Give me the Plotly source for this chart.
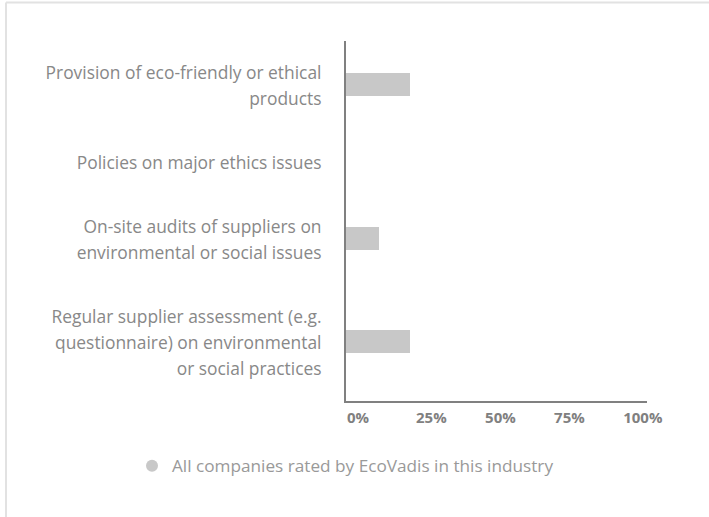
import plotly.graph_objects as go

# ---- data ----
CATEGORIES = [
    ["Provision of eco-friendly or ethical", "products"],
    ["Policies on major ethics issues"],
    ["On-site audits of suppliers on", "environmental or social issues"],
    ["Regular supplier assessment (e.g.", "questionnaire) on environmental", "or social practices"],
]
VALUES = [23, 0, 12, 23]
SERIES_NAME = "All companies rated by EcoVadis in this industry"
X_TICKS = [0, 25, 50, 75, 100]
X_TICK_LABELS = ["0%", "25%", "50%", "75%", "100%"]

# ---- style / layout constants ----
W, H = 709, 517
ML, MR, MT, MB = 346, 62, 41, 116
X_RANGE = [0, 109]   # axis line runs a little past 100%
LINE_H = 26      # px between label lines
PAD = 38         # extra band height per category
BAR_W = 23
BAR_COLOR = "#c8c8c8"
AXIS_COLOR = "#808080"
FONT = "Open Sans"

# category band layout derived from label line counts (y axis in pixel-like units)
bands = [PAD + LINE_H * len(c) for c in CATEGORIES]
total = sum(bands)
centers = []
acc = 0
for b in bands:
    centers.append(acc + b / 2)
    acc += b

tickvals, ticktext = [], []
for c, lines in zip(centers, CATEGORIES):
    n = len(lines)
    for j, ln in enumerate(lines):
        tickvals.append(c + (j - (n - 1) / 2) * LINE_H)
        ticktext.append(ln)

fig = go.Figure()
fig.add_trace(go.Bar(
    x=VALUES, y=centers, orientation="h", width=BAR_W, offset=-BAR_W / 2 - 2,
    marker=dict(color=BAR_COLOR, line=dict(width=0)),
    showlegend=False, hoverinfo="skip",
))
# legend entry with a circle symbol
fig.add_trace(go.Scatter(
    x=[None], y=[None], mode="markers", name=SERIES_NAME,
    marker=dict(symbol="circle", size=12, color=BAR_COLOR),
    hoverinfo="skip",
))

plot_w = W - ML - MR
plot_h = H - MT - MB

fig.update_layout(
    width=W, height=H,
    margin=dict(l=ML, r=MR, t=MT, b=MB, pad=0),
    paper_bgcolor="white", plot_bgcolor="white",
    font=dict(family=FONT, size=17, color="#888888"),
    bargap=0,
    xaxis=dict(
        range=X_RANGE, showgrid=False, zeroline=False,
        showline=True, linecolor=AXIS_COLOR, linewidth=2,
        tickvals=X_TICKS, ticktext=X_TICK_LABELS, ticks="",
        ticklabelposition="outside right",
        tickfont=dict(family=FONT, size=15, color=AXIS_COLOR, weight="bold"),
        ticklabelstandoff=2,
    ),
    yaxis=dict(
        range=[total, 0], showgrid=False, zeroline=False,
        showline=True, linecolor=AXIS_COLOR, linewidth=2,
        tickvals=tickvals, ticktext=ticktext, ticks="",
        tickfont=dict(family=FONT, size=17.4, color="#888888"),
        ticklabelstandoff=19,
    ),
    legend=dict(
        orientation="h", x=(132 - ML) / plot_w, xanchor="left",
        y=-(466 - (H - MB)) / plot_h, yanchor="middle",
        font=dict(family=FONT, size=17.2, color="#999999"),
        bgcolor="rgba(0,0,0,0)",
    ),
)

# container border (top and left edges visible)
bx = (6 - ML) / plot_w
by = ((H - MB) - 2.5) / plot_h
fig.add_shape(type="line", xref="paper", yref="paper",
              x0=bx, x1=(W + 5 - ML) / plot_w, y0=by, y1=by,
              line=dict(color="#e2e2e2", width=2))
fig.add_shape(type="line", xref="paper", yref="paper",
              x0=bx, x1=bx, y0=by, y1=-(MB + 5) / plot_h,
              line=dict(color="#e2e2e2", width=2))

fig.write_html("out.html")
